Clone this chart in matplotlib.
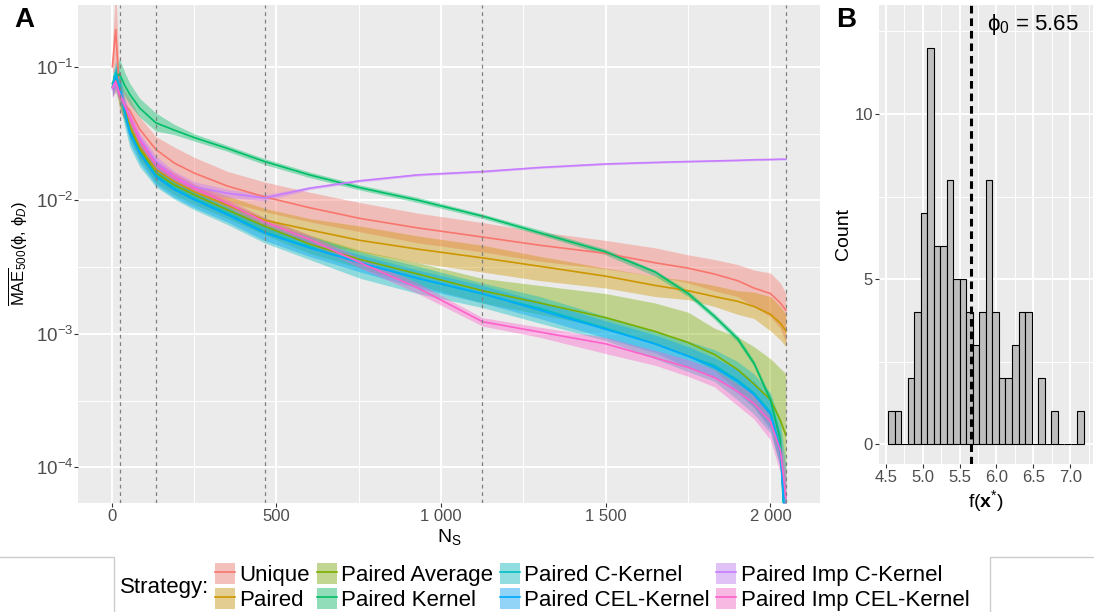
import matplotlib
matplotlib.use('Agg')
import matplotlib.pyplot as plt
from matplotlib.lines import Line2D
from matplotlib.patches import Patch
import numpy as np

plt.rcParams['font.family'] = ['Liberation Sans', 'DejaVu Sans']
plt.rcParams['mathtext.fontset'] = 'custom'
plt.rcParams['mathtext.rm'] = 'Liberation Sans'
plt.rcParams['mathtext.it'] = 'Liberation Sans:italic'
plt.rcParams['mathtext.bf'] = 'Liberation Sans:bold'

# ---- panel A data: number of coalitions vs mean MAE (mid line + ribbon) ----
NS = [2, 12, 24, 40, 55, 85, 134, 190, 250, 350, 464, 600, 755, 930, 1126,
      1300, 1500, 1650, 1750, 1830, 1900, 1950, 2000, 2030, 2047]

unique_mid = [0.10, 0.19, 0.060, 0.052, 0.047, 0.034, 0.024, 0.019, 0.016, 0.0128, 0.0106, 0.0088, 0.0073, 0.0062, 0.0053,
              0.0046, 0.0040, 0.0034, 0.0031, 0.0028, 0.0025, 0.0022, 0.0020, 0.0017, 0.0015]
unique_lo = [0.09, 0.095, 0.045, 0.040, 0.038, 0.027, 0.0178, 0.0145, 0.0119, 0.0098, 0.0082, 0.0069, 0.0058, 0.0048, 0.0041,
             0.0035, 0.00305, 0.0027, 0.0024, 0.0021, 0.0019, 0.0016, 0.00134, 0.0011, 0.00085]
unique_hi = [0.14, 0.40, 0.080, 0.066, 0.058, 0.042, 0.030, 0.025, 0.021, 0.0165, 0.0137, 0.0115, 0.0096, 0.0080, 0.0068,
             0.0058, 0.0050, 0.0044, 0.0039, 0.0036, 0.0033, 0.0030, 0.00285, 0.0024, 0.0020]

paired_mid = [0.075, 0.08, 0.065, 0.048, 0.036, 0.025, 0.017, 0.0138, 0.0116, 0.0092, 0.0071, 0.0060, 0.0050, 0.0043, 0.0037,
              0.0032, 0.0027, 0.0023, 0.0021, 0.0019, 0.00175, 0.0016, 0.0014, 0.0012, 0.00105]
paired_lo = [0.065, 0.07, 0.055, 0.041, 0.031, 0.021, 0.0145, 0.012, 0.0100, 0.0078, 0.0058, 0.0048, 0.0041, 0.0034, 0.0029,
             0.0025, 0.0022, 0.0019, 0.0018, 0.0016, 0.0014, 0.0013, 0.00105, 0.0009, 0.0008]
paired_hi = [0.085, 0.09, 0.075, 0.056, 0.041, 0.029, 0.0195, 0.016, 0.0132, 0.0108, 0.0087, 0.0073, 0.0064, 0.0054, 0.0046,
             0.0038, 0.0031, 0.0027, 0.0025, 0.0023, 0.0021, 0.00205, 0.0019, 0.0016, 0.0014]

avg_mid = [0.07, 0.08, 0.065, 0.045, 0.034, 0.024, 0.016, 0.013, 0.011, 0.0085, 0.0064, 0.0047, 0.0036, 0.0028, 0.0021,
           0.0017, 0.00132, 0.00104, 0.00086, 0.00070, 0.00054, 0.00042, 0.00032, 0.000225, 0.000173]
avg_lo = [0.06, 0.065, 0.05, 0.038, 0.029, 0.020, 0.0135, 0.011, 0.0093, 0.0073, 0.0055, 0.0040, 0.0031, 0.0023, 0.0017,
          0.0014, 0.0011, 0.00084, 0.00068, 0.00053, 0.00038, 0.00028, 0.0002, 0.0001, 0.00004]
avg_hi = [0.08, 0.095, 0.08, 0.052, 0.039, 0.028, 0.019, 0.0152, 0.0128, 0.0098, 0.0074, 0.0055, 0.0042, 0.0034, 0.0026,
          0.0023, 0.0020, 0.0017, 0.00145, 0.0011, 0.00095, 0.0008, 0.00065, 0.00055, 0.0005]

kernel_mid = [0.075, 0.085, 0.088, 0.072, 0.062, 0.049, 0.038, 0.0335, 0.0295, 0.0245, 0.0195, 0.0155, 0.0124, 0.0100, 0.0076,
              0.0057, 0.0041, 0.0029, 0.0020, 0.00135, 0.00092, 0.0006, 0.00032, 0.00016, 0.00002]
kernel_lo = [0.065, 0.07, 0.075, 0.06, 0.052, 0.042, 0.033, 0.031, 0.0278, 0.0233, 0.0185, 0.0148, 0.0119, 0.0096, 0.0073,
             0.0055, 0.0039, 0.0027, 0.0019, 0.00128, 0.00087, 0.00057, 0.0003, 0.00015, 0.000018]
kernel_hi = [0.085, 0.10, 0.115, 0.09, 0.075, 0.058, 0.045, 0.037, 0.0315, 0.0258, 0.0205, 0.0163, 0.0130, 0.0105, 0.0079,
             0.0060, 0.0043, 0.0030, 0.0021, 0.00142, 0.00097, 0.00063, 0.00034, 0.00017, 0.000022]

ckernel_mid = [0.072, 0.09, 0.072, 0.046, 0.033, 0.023, 0.0155, 0.0123, 0.0103, 0.008, 0.0058, 0.0045, 0.0034, 0.0026, 0.00198,
               0.00155, 0.0011, 0.00084, 0.00068, 0.00058, 0.00045, 0.00036, 0.00026, 0.00014, 0.00003]
ckernel_lo = [0.06, 0.07, 0.055, 0.035, 0.025, 0.0178, 0.0126, 0.0102, 0.0085, 0.0066, 0.0048, 0.0036, 0.0026, 0.002, 0.00157,
              0.0012, 0.00089, 0.00065, 0.00052, 0.00044, 0.00032, 0.00025, 0.00018, 0.0001, 0.00002]
ckernel_hi = [0.085, 0.11, 0.09, 0.057, 0.038, 0.027, 0.020, 0.0148, 0.0119, 0.0095, 0.0068, 0.0054, 0.0041, 0.0032, 0.0024,
              0.0019, 0.00135, 0.00105, 0.00088, 0.00076, 0.00062, 0.0005, 0.00036, 0.00022, 0.0001]

celkernel_mid = [0.07, 0.085, 0.07, 0.045, 0.032, 0.0226, 0.015, 0.012, 0.0101, 0.0078, 0.0057, 0.0044, 0.0034, 0.0026, 0.0020,
                 0.0015, 0.00108, 0.00084, 0.00068, 0.00056, 0.00044, 0.00035, 0.00025, 0.00013, 0.00003]
celkernel_lo = [0.062, 0.072, 0.058, 0.039, 0.027, 0.019, 0.013, 0.0105, 0.0088, 0.0069, 0.005, 0.0038, 0.0029, 0.0022, 0.0017,
                0.0013, 0.00093, 0.00072, 0.00056, 0.00047, 0.00036, 0.00028, 0.00019, 0.0001, 0.00002]
celkernel_hi = [0.08, 0.10, 0.085, 0.052, 0.036, 0.026, 0.018, 0.0137, 0.0115, 0.0088, 0.0065, 0.005, 0.0039, 0.003, 0.0023,
                0.00175, 0.00125, 0.00098, 0.0008, 0.00066, 0.00054, 0.00044, 0.00032, 0.00018, 0.00006]

impc_mid = [0.068, 0.075, 0.063, 0.052, 0.042, 0.029, 0.0195, 0.015, 0.0126, 0.0113, 0.0104, 0.0123, 0.014, 0.0155, 0.0164,
            0.0176, 0.0187, 0.0192, 0.0195, 0.0197, 0.0199, 0.0201, 0.0202, 0.0203, 0.0203]
impc_lo = [0.058, 0.065, 0.055, 0.047, 0.038, 0.026, 0.0175, 0.0138, 0.0115, 0.0105, 0.0099, 0.012, 0.0137, 0.0152, 0.0161,
           0.0173, 0.0184, 0.0189, 0.0192, 0.0194, 0.0196, 0.0198, 0.0199, 0.02, 0.02]
impc_hi = [0.075, 0.085, 0.072, 0.057, 0.046, 0.032, 0.0215, 0.0165, 0.0138, 0.0121, 0.011, 0.0126, 0.0143, 0.0158, 0.0167,
           0.0179, 0.019, 0.0195, 0.0198, 0.02, 0.0202, 0.0204, 0.0205, 0.0206, 0.0206]

impcel_mid = [0.07, 0.078, 0.062, 0.05, 0.042, 0.028, 0.0185, 0.0148, 0.0123, 0.0095, 0.0069, 0.0051, 0.0034, 0.0022, 0.00123,
              0.00103, 0.00084, 0.00066, 0.00056, 0.00047, 0.00037, 0.0003, 0.00022, 0.000134, 0.000059]
impcel_lo = [0.06, 0.068, 0.055, 0.046, 0.038, 0.025, 0.017, 0.0138, 0.0115, 0.0089, 0.0064, 0.0047, 0.0031, 0.002, 0.00114,
             0.00094, 0.00071, 0.00058, 0.00048, 0.0004, 0.00029, 0.00023, 0.00016, 0.00009, 0.00003]
impcel_hi = [0.078, 0.088, 0.07, 0.055, 0.046, 0.031, 0.020, 0.016, 0.0132, 0.0102, 0.0074, 0.0055, 0.0037, 0.0024, 0.00132,
             0.00112, 0.00094, 0.00075, 0.00064, 0.00054, 0.00042, 0.00035, 0.00026, 0.00017, 0.00009]

strategies = ['Unique', 'Paired', 'Paired Average', 'Paired Kernel', 'Paired C-Kernel',
              'Paired CEL-Kernel', 'Paired Imp C-Kernel', 'Paired Imp CEL-Kernel']
colors = ['#F8766D', '#CD9600', '#7CAE00', '#00BE67', '#00BFC4', '#00A9FF', '#C77CFF', '#FF61CC']
series = [(unique_mid, unique_lo, unique_hi), (paired_mid, paired_lo, paired_hi),
          (avg_mid, avg_lo, avg_hi), (kernel_mid, kernel_lo, kernel_hi),
          (ckernel_mid, ckernel_lo, ckernel_hi), (celkernel_mid, celkernel_lo, celkernel_hi),
          (impc_mid, impc_lo, impc_hi), (impcel_mid, impcel_lo, impcel_hi)]

# coalition-size boundaries
vlines_ns = [24, 134, 464, 1124, 2048]

# ---- panel B data: histogram of f(x*) ----
bin_start = 4.531
bin_width = 0.0884
counts = [1, 1, 0, 2, 4, 7, 12, 6, 6, 8, 5, 5, 4, 3, 4, 8, 4, 2, 2, 3, 4, 4, 0, 2, 0, 1, 0, 0, 0, 1]
phi0 = 5.65

W, H = 1094, 612
fig = plt.figure(figsize=(W / 100, H / 100), dpi=100)

PANEL = '#EBEBEB'
TICKC = '#4D4D4D'


def style_axes(ax):
    ax.set_facecolor(PANEL)
    for s in ax.spines.values():
        s.set_visible(False)
    ax.grid(True, which='major', color='white', lw=1.4)
    ax.grid(True, which='minor', color='white', lw=0.7)
    ax.set_axisbelow(True)
    ax.tick_params(which='major', length=2.75, width=0.8, color='#333333',
                   labelcolor=TICKC, labelsize=12, pad=1.5)
    ax.tick_params(which='minor', length=0)


# ---------- Panel A ----------
axA = fig.add_axes([78 / W, 1 - 503 / H, (820 - 78) / W, (503 - 5) / H])
style_axes(axA)
axA.set_yscale('log')
for (mid, lo, hi), c in zip(series, colors):
    axA.fill_between(NS, lo, hi, color=c, alpha=0.4, lw=0)
for (mid, lo, hi), c in zip(series, colors):
    axA.plot(NS, mid, color=c, lw=1.2)
for v in vlines_ns:
    axA.axvline(v, color='#7F7F7F', lw=0.9, ls=(0, (3, 3)))

axA.set_xticks([0, 500, 1000, 1500, 2000])
axA.set_xticklabels(['0', '500', '1 000', '1 500', '2 000'])
axA.set_xticks([250, 750, 1250, 1750], minor=True)
axA.set_yticks([1e-4, 1e-3, 1e-2, 1e-1])
axA.set_yticklabels([r'$10^{-4}$', r'$10^{-3}$', r'$10^{-2}$', r'$10^{-1}$'])
axA.set_yticks([3.16e-4, 3.16e-3, 3.16e-2], minor=True)
axA.yaxis.set_minor_formatter(plt.NullFormatter())
axA.tick_params(axis='y', which='major', labelsize=13.5, pad=0.5)
axA.set_xlim(-102.4, 2150.4)
axA.set_ylim(5.4e-5, 0.29)
axA.set_xlabel(r'N$_\mathrm{S}$', fontsize=14, labelpad=2)
axA.set_ylabel(r'$\overline{\mathrm{MAE}}_{500}$(ϕ, ϕ$_D$)', fontsize=12, labelpad=4)

# ---------- Panel B ----------
axB = fig.add_axes([879 / W, 1 - 464 / H, (1093 - 879) / W, (464 - 5) / H])
style_axes(axB)
edges = bin_start + bin_width * np.arange(len(counts))
axB.bar(edges, counts, width=bin_width, align='edge', color='#BEBEBE',
        edgecolor='black', lw=0.8, zorder=2)
axB.axvline(phi0, color='black', lw=2.2, ls=(0, (2.5, 1.6)), zorder=3)
axB.text(6.49, 12.7, 'ϕ$_0$ = 5.65', fontsize=16, ha='center', va='center')
axB.set_xticks([4.5, 5.0, 5.5, 6.0, 6.5, 7.0])
axB.set_xticklabels(['4.5', '5.0', '5.5', '6.0', '6.5', '7.0'])
axB.set_xticks([4.75, 5.25, 5.75, 6.25, 6.75, 7.25], minor=True)
axB.set_yticks([0, 5, 10])
axB.set_yticks([2.5, 7.5, 12.5], minor=True)
axB.set_xlim(4.405, 7.31)
axB.set_ylim(-0.6, 13.3)
axB.set_xlabel(r'f($\mathbf{x}^{*}$)', fontsize=14, labelpad=2)
axB.set_ylabel('Count', fontsize=14, labelpad=2)

# panel tags
fig.text(14 / W, 1 - 20 / H, 'A', fontsize=20, fontweight='bold', va='center')
fig.text(836 / W, 1 - 20 / H, 'B', fontsize=20, fontweight='bold', va='center')

# ---------- Legend ----------
handles = []
for c in colors:
    handles.append((Patch(facecolor='#F2F2F2', edgecolor='none'),
                    Patch(facecolor=c, alpha=0.4, edgecolor='none'),
                    Line2D([], [], color=c, lw=1.2)))
fig.legend(handles, strategies, ncol=4, loc='center left',
           bbox_to_anchor=(215 / W, 1 - 587 / H), frameon=False, fontsize=16,
           handlelength=0.9, handleheight=1.05, handletextpad=0.2,
           columnspacing=0.3, labelspacing=0.1, borderpad=0, borderaxespad=0)
fig.text(120 / W, 1 - 588 / H, 'Strategy:', fontsize=16, va='center')

# light frame lines around legend area
border = '#CCCCCC'
fig.add_artist(Line2D([0, 114 / W, 114 / W], [1 - 557 / H, 1 - 557 / H, 0],
                      transform=fig.transFigure, color=border, lw=1))
fig.add_artist(Line2D([1, 990 / W, 990 / W], [1 - 557 / H, 1 - 557 / H, 0],
                      transform=fig.transFigure, color=border, lw=1))

fig.savefig('out.png', dpi=100, facecolor='white')
